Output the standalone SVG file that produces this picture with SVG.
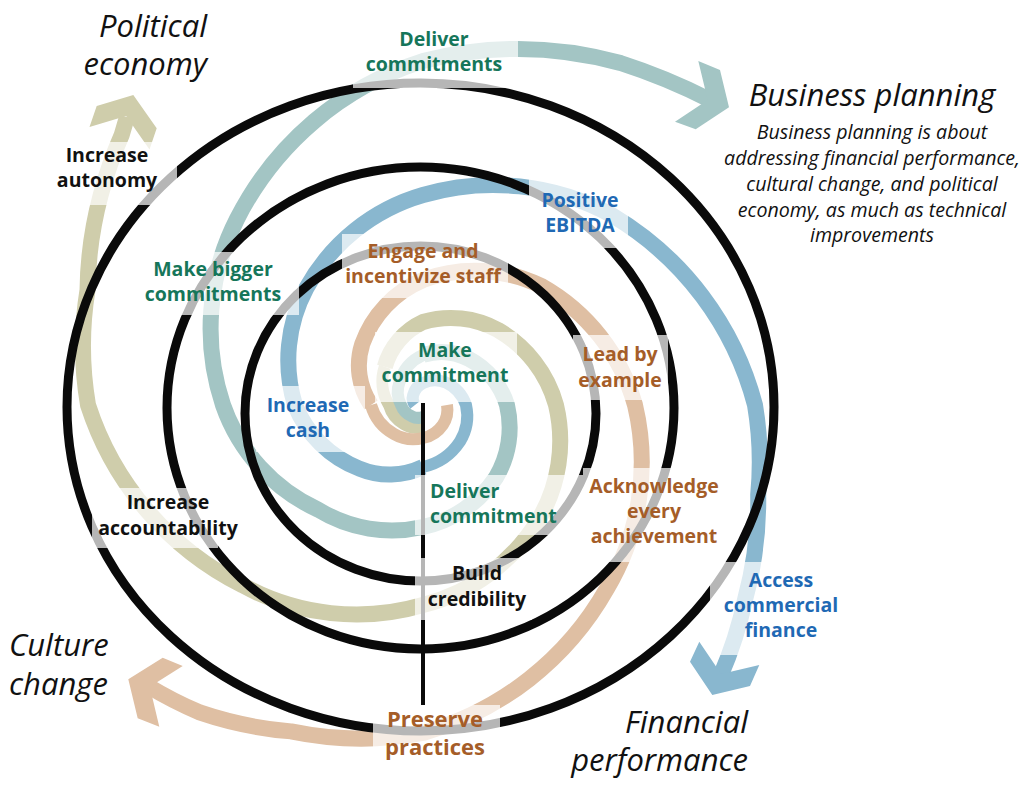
<svg xmlns="http://www.w3.org/2000/svg" width="1029" height="792" viewBox="0 0 1029 792">
<defs>
<style>
.arm{fill:none;stroke-linecap:butt;stroke-width:16}
.in{stroke-width:12}
.teal{stroke:#a3c5c4}.khaki{stroke:#cfcdab}.tan{stroke:#dfbfa3}.blue{stroke:#89b7cf}
.fteal{fill:#a3c5c4}.fkhaki{fill:#cfcdab}.ftan{fill:#dfbfa3}.fblue{fill:#89b7cf}
.ring{fill:none;stroke:#0a0a0a;stroke-width:9}
.bg{fill:#fff;fill-opacity:0.7}
.lbl{font-family:'Open Sans','Noto Sans',sans-serif;font-weight:700;font-size:19.5px;text-anchor:middle}
.g{fill:#16765a}.b{fill:#1f69b4}.o{fill:#a55d28}.k{fill:#111}
.ttl{font-family:'Open Sans','Noto Sans',sans-serif;font-style:italic;font-size:31px;fill:#111}
.desc{font-family:'Open Sans','Noto Sans',sans-serif;font-style:italic;font-size:19.6px;fill:#111;text-anchor:middle}
</style>
</defs>
<rect width="1029" height="792" fill="#fff"/>
<g id="connectors">
<g id="arm-khaki">
<path class="arm in khaki" d="M423,427 A25.6,25.6 0 0 1 403.9,424.1 A31.8,31.8 0 0 1 389,405 A45,45 0 0 1 384.8,366.8"/>
<path class="arm khaki" d="M384.8,366.8 A70.3,70.3 0 0 1 423,322 A98.5,98.5 0 0 1 498,330 A124.7,124.7 0 0 1 556,405 A154.6,154.6 0 0 1 538.3,520.3 A189.6,189.6 0 0 1 423,605 A237,237 0 0 1 242.7,585.3 A307,307 0 0 1 88,405 A350,350 0 0 1 87.5,290 A388,388 0 0 1 100.7,195 A415,415 0 0 1 121.7,135 L127,117"/>
<polygon class="fkhaki" points="133.3,95 156.7,128.3 149.5,149.4 126.1,116 89.5,127 96.7,106"/>
</g>
<g id="arm-tan">
<path class="arm in tan" d="M447,405 A27.2,27.2 0 0 1 442.8,424.8 A31.9,31.9 0 0 1 423,438 A38.6,38.6 0 0 1 394,434 A48.5,48.5 0 0 1 371,405"/>
<path class="arm tan" d="M371,405 A70.2,70.2 0 0 1 362.2,344.2 A108.9,108.9 0 0 1 423,280 A152.2,152.2 0 0 1 541.8,286.2 A198.2,198.2 0 0 1 635,405 A246.5,246.5 0 0 1 606.8,588.8 A306.6,306.6 0 0 1 423,733 A346,346 0 0 1 291.1,731.4 A383,383 0 0 1 199.6,712.4 A400,400 0 0 1 148,686"/>
<polygon class="ftan" points="128.3,679.3 162.7,657.7 182.7,666 149.8,686.8 159.3,726.7 137.7,718.3"/>
</g>
<g id="arm-teal">
<path class="arm in teal" d="M423,417 A14.6,14.6 0 0 1 411.7,416.3 A19.7,19.7 0 0 1 401,405 A28.3,28.3 0 0 1 399.7,381.7 A42.6,42.6 0 0 1 423,355"/>
<path class="arm teal" d="M423,355 A60,60 0 0 1 469,359 A77.6,77.6 0 0 1 507,405 A97.6,97.6 0 0 1 495.8,477.8 A117.7,117.7 0 0 1 423,527 A141,141 0 0 1 318.3,509.7 A180.6,180.6 0 0 1 223,405 A240.8,240.8 0 0 1 237,219 A315.8,315.8 0 0 1 423,61 A387,387 0 0 1 620.5,63 A600,600 0 0 1 710,100"/>
<polygon class="fteal" points="698.3,61 720,70 729,107.3 695.7,129.3 675,121.7 707.7,100"/>
</g>
<g id="arm-blue">
<path class="arm in blue" d="M415,405 A11.1,11.1 0 0 1 413.1,395.1 A18.4,18.4 0 0 1 423,383 A27.9,27.9 0 0 1 445.6,382.4 A38.9,38.9 0 0 1 466,405 A49.6,49.6 0 0 1 459.8,441.8 A59.6,59.6 0 0 1 423,467"/>
<path class="arm blue" d="M423,467 A78.4,78.4 0 0 1 359.4,468.6 A112.7,112.7 0 0 1 295,405 A152.6,152.6 0 0 1 306.3,288.3 A195.4,195.4 0 0 1 423,195 A249.1,249.1 0 0 1 612.5,215.5 A313.2,313.2 0 0 1 755,405 A344,344 0 0 1 758.2,494.8 A376,376 0 0 1 745.3,598.6 A400,400 0 0 1 720.5,676"/>
<polygon class="fblue" points="712.3,695 690,661.7 699.3,641.7 721.1,674.1 759.3,665 750,686"/>
</g>
</g>
<g id="rings">
<ellipse class="ring" cx="420.5" cy="407" rx="353.5" ry="324"/>
<ellipse class="ring" cx="420.5" cy="408" rx="253.5" ry="241"/>
<ellipse class="ring" cx="420.5" cy="413.5" rx="175.5" ry="167.5"/>
<line x1="423" y1="403" x2="423" y2="705" stroke="#0a0a0a" stroke-width="4"/>
</g>
<g id="title-political"><text class="ttl" text-anchor="end" x="207" y="37">Political</text><text class="ttl" text-anchor="end" x="207" y="75">economy</text></g>
<g id="title-business">
<text class="ttl" text-anchor="middle" x="872" y="106">Business planning</text>
<text class="desc" x="872" y="139">Business planning is about</text>
<text class="desc" x="872" y="165">addressing financial performance,</text>
<text class="desc" x="872" y="191">cultural change, and political</text>
<text class="desc" x="872" y="217">economy, as much as technical</text>
<text class="desc" x="872" y="242">improvements</text>
</g>
<g id="title-culture"><text class="ttl" x="9" y="656">Culture</text><text class="ttl" x="9" y="695">change</text></g>
<g id="title-financial"><text class="ttl" text-anchor="end" x="748" y="733">Financial</text><text class="ttl" text-anchor="end" x="748" y="771">performance</text></g>
<g id="n-deliver-commitments"><rect class="bg" x="353" y="28" width="165" height="60"/><text class="lbl g" x="434" y="46">Deliver</text><text class="lbl g" x="434" y="71">commitments</text></g>
<g id="n-increase-autonomy"><rect class="bg" x="88" y="142" width="89" height="63"/><text class="lbl k" x="107" y="162">Increase</text><text class="lbl k" x="107" y="187">autonomy</text></g>
<g id="n-make-bigger"><rect class="bg" x="140" y="252" width="159" height="63"/><text class="lbl g" x="213" y="276">Make bigger</text><text class="lbl g" x="213" y="301">commitments</text></g>
<g id="n-engage"><rect class="bg" x="342" y="234" width="166" height="64"/><text class="lbl o" x="423" y="258">Engage and</text><text class="lbl o" x="423" y="283">incentivize staff</text></g>
<g id="n-ebitda"><rect class="bg" x="529" y="178" width="99" height="70"/><text class="lbl b" x="580" y="207">Positive</text><text class="lbl b" x="580" y="232">EBITDA</text></g>
<g id="n-lead"><rect class="bg" x="573" y="335" width="95" height="65"/><text class="lbl o" x="620" y="361">Lead by</text><text class="lbl o" x="620" y="387">example</text></g>
<g id="n-make-commitment"><rect class="bg" x="375" y="332" width="142" height="70"/><text class="lbl g" x="445" y="357">Make</text><text class="lbl g" x="445" y="382">commitment</text></g>
<g id="n-increase-cash"><rect class="bg" x="256" y="386" width="109" height="66"/><text class="lbl b" x="308" y="412">Increase</text><text class="lbl b" x="308" y="437">cash</text></g>
<g id="n-deliver-commitment"><rect class="bg" x="415" y="475" width="168" height="60"/><text class="lbl g" style="text-anchor:start" x="430" y="498">Deliver</text><text class="lbl g" style="text-anchor:start" x="430" y="523">commitment</text></g>
<g id="n-acknowledge"><rect class="bg" x="583" y="468" width="139" height="94"/><text class="lbl o" x="654" y="493">Acknowledge</text><text class="lbl o" x="654" y="518">every</text><text class="lbl o" x="654" y="543">achievement</text></g>
<g id="n-build"><rect class="bg" x="415" y="558" width="117" height="62"/><text class="lbl k" x="477" y="580">Build</text><text class="lbl k" x="477" y="606">credibility</text></g>
<g id="n-accountability"><rect class="bg" x="92" y="488" width="126" height="60"/><text class="lbl k" x="168" y="509">Increase</text><text class="lbl k" x="168" y="535">accountability</text></g>
<g id="n-preserve"><rect class="bg" x="373" y="705" width="127" height="58"/><text class="lbl o" style="font-size:22px" x="435" y="727">Preserve</text><text class="lbl o" style="font-size:22px" x="435" y="755">practices</text></g>
<g id="n-access"><rect class="bg" x="710" y="562" width="135" height="93"/><text class="lbl b" x="781" y="587">Access</text><text class="lbl b" x="781" y="612">commercial</text><text class="lbl b" x="781" y="637">finance</text></g>
</svg>
